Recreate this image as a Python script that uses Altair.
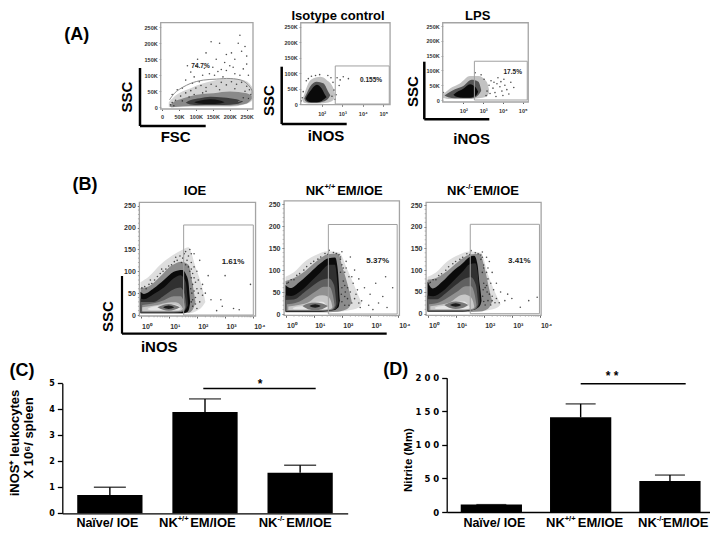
import altair as alt
import pandas as pd

W, H = 702, 521
FONT = "Liberation Sans"
WIDE = "DejaVu Sans"

def px(v):
    return v - 8

# ---------- Row A: values ----------
a1_gate = [(22, 23), (43, 50), (83, 74), (122, 85), (161, 88), (201, 90), (240, 82), (265, 54), (258, 33), (225, 18)]
a1_layers = [
    ("#d4d4d4", [20, 43, 83, 122, 161, 201, 240, 265, 270], [16, 39, 59, 75, 85, 90, 85, 65, 45], [2, 0, 2, 2, 2, 2, 8, 20, 30]),
    ("#8a8a8a", [22, 29, 63, 102, 152, 201, 250, 265], [4, 12, 28, 39, 44, 49, 44, 36], [4, 0, 3, 4, 5, 5, 12, 26]),
    ("#3e3e3e", [70, 83, 112, 142, 181, 220, 240], [14, 22, 28, 33, 31, 25, 18], [14, 9, 7, 7, 7, 10, 18]),
    ("#141414", [95, 107, 142, 171, 185], [16, 20, 25, 21, 16], [16, 12, 10, 12, 16]),
]
a1_dots = [(100, 130), (125, 122), (150, 125), (175, 118), (120, 100), (85, 110), (60, 60), (70, 85), (95, 95), (140, 105),
           (160, 150), (185, 140), (200, 130), (215, 150), (235, 175), (225, 200), (230, 225), (205, 170), (190, 165), (130, 170),
           (145, 205), (170, 200), (240, 120), (250, 135), (255, 100), (215, 105), (180, 95), (110, 80), (45, 55), (30, 40),
           (75, 130), (105, 150), (250, 160), (245, 190), (190, 115), (155, 100), (230, 100), (210, 125), (165, 112), (90, 75),
           (40, 22), (55, 35), (70, 45), (85, 52), (100, 60), (115, 68), (130, 62), (145, 72), (160, 66), (175, 78),
           (190, 70), (205, 80), (220, 72), (235, 78), (250, 66), (258, 55), (245, 50), (60, 20), (80, 32), (25, 8),
           (30, 15), (130, 50), (170, 55), (215, 58), (95, 40), (35, 5), (262, 40), (240, 30), (255, 28), (120, 45)]

a2_layers = [
    ("#c2c2c2", [1.05, 1.14, 1.35, 1.6, 1.92, 2.24, 2.57, 2.65], [14, 30, 67, 83, 88, 78, 51, 30], [14, 4, 2, 2, 2, 4, 13, 30]),
    ("#555555", [1.15, 1.24, 1.43, 1.76, 2.08, 2.32, 2.42], [18, 30, 56, 72, 67, 40, 28], [18, 8, 4, 4, 8, 18, 28]),
    ("#0a0a0a", [1.22, 1.3, 1.51, 1.76, 2.0, 2.16, 2.24], [18, 28, 48, 62, 50, 30, 22], [18, 10, 6, 6, 10, 18, 22]),
]
a2_dots = [(2.75, 85), (2.9, 78), (2.55, 70), (2.45, 85), (1.1, 40), (1.05, 20), (2.6, 45), (2.7, 30), (2.5, 25), (2.3, 92),
           (1.9, 95), (1.5, 90), (1.25, 75), (2.85, 60), (2.65, 15), (1.0, 10), (3.05, 88), (3.3, 82), (1.35, 82), (1.7, 92)]

a3_layers = [
    ("#c2c2c2", [0.96, 1.33, 1.83, 2.34, 2.76, 3.18, 3.3], [18, 39, 56, 81, 81, 62, 35], [8, 3, 3, 3, 6, 11, 25]),
    ("#555555", [1.05, 1.24, 1.58, 2.0, 2.42, 2.76, 2.9], [15, 24, 36, 47, 68, 62, 35], [15, 9, 6, 6, 6, 17, 30]),
    ("#0a0a0a", [1.5, 1.66, 2.0, 2.34, 2.64, 2.75], [18, 26, 38, 53, 41, 28], [18, 11, 8, 8, 15, 28]),
]
a3_dots = [(3.3, 50), (3.5, 40), (3.7, 55), (3.9, 62), (4.1, 50), (4.2, 35), (3.6, 25), (3.95, 30), (4.4, 60), (3.2, 30),
           (3.4, 65), (3.05, 70), (2.9, 85), (4.0, 15), (4.3, 20), (3.75, 75), (3.15, 15), (4.55, 42), (2.6, 92), (1.0, 25),
           (3.85, 45), (3.55, 60), (4.05, 70), (3.35, 22), (3.65, 12)]

# ---------- Row B: values ----------
b1_layers = [
    ("#dedede", [0, 0.3, 0.7, 1.1, 1.5, 1.7, 1.95, 2.2, 2.3], [75, 88, 115, 135, 150, 155, 110, 60, 30], [4, 4, 4, 4, 4, 4, 8, 20, 30]),
    ("#8c8c8c", [0, 0.3, 0.7, 1.1, 1.45, 1.7, 1.85, 1.95], [62, 66, 88, 113, 122, 115, 70, 30], [4, 4, 4, 4, 4, 5, 12, 30]),
    ("#0b0b0b", [0, 0.12, 0.47, 0.83, 1.18, 1.48, 1.62, 1.7, 1.74, 1.76], [53, 48, 61, 80, 99, 103, 92, 75, 45, 30], [4, 4, 4, 4, 4, 4, 6, 10, 20, 30]),
    ("#303030", [0, 0.12, 0.47, 0.83, 1.18, 1.42, 1.6, 1.68], [38, 36, 48, 63, 84, 91, 76, 28], [5, 5, 5, 5, 5, 6, 12, 22]),
    ("#606060", [0, 0.47, 0.83, 1.18, 1.42, 1.56, 1.62], [30, 30, 44, 59, 63, 48, 22], [6, 6, 6, 6, 7, 10, 20]),
    ("#909090", [0.06, 0.47, 0.83, 1.18, 1.42, 1.54, 1.58], [23, 27, 34, 43, 43, 30, 18], [7, 7, 7, 7, 8, 11, 16]),
    ("#c8c8c8", [0.06, 0.6, 0.95, 1.24, 1.42, 1.5], [18, 23, 28, 29, 23, 15], [9, 9, 9, 9, 10, 13]),
    ("#e6e6e6", [0.25, 0.35, 0.83, 1.07, 1.36, 1.42], [14, 17, 23, 25, 21, 15], [13, 11, 11, 11, 11, 13]),
    ("#777777", [0.6, 0.8, 1.0, 1.2, 1.4], [18, 23, 25, 23, 18], [18, 12, 10, 12, 18]),
    ("#1c1c1c", [0.8, 1.0, 1.2], [18, 22, 18], [18, 14, 18]),
]
b1_dots = [(2.4, 90), (2.1, 125), (1.9, 140), (1.75, 150), (2.0, 100), (2.2, 70), (2.3, 50), (2.0, 60), (1.95, 40), (2.1, 30),
           (2.5, 35), (2.9, 20), (3.3, 15), (3.9, 70), (3.0, 90), (2.85, 35), (3.5, 12), (2.7, 10), (1.9, 85), (1.8, 120),
           (1.7, 135), (1.6, 145), (1.5, 130), (1.3, 125), (1.1, 115), (0.9, 105), (0.7, 95), (0.5, 80), (0.3, 70), (0.15, 65),
           (1.85, 20), (2.0, 15), (1.9, 110), (2.05, 80), (2.2, 45), (1.85, 70),
           (0.05, 62), (0.2, 60), (0.4, 72), (0.6, 88), (0.8, 100), (1.0, 112), (1.2, 122), (1.4, 135), (1.55, 140), (1.65, 125),
           (1.8, 105), (1.85, 95), (1.95, 75), (1.9, 55), (2.05, 50), (1.85, 35), (1.95, 25), (2.15, 60), (1.8, 140), (1.6, 115),
           (1.75, 100), (1.8, 85), (1.78, 60), (1.82, 50), (1.8, 30), (0.35, 80), (0.75, 105), (1.25, 132), (1.45, 120), (1.7, 110)]

b2_layers = [
    ("#dedede", [0, 0.3, 0.7, 1.1, 1.5, 1.9, 2.2, 2.6, 2.7], [85, 95, 120, 135, 143, 140, 100, 40, 25], [4, 4, 4, 4, 4, 5, 8, 15, 25]),
    ("#8c8c8c", [0, 0.3, 0.7, 1.1, 1.5, 1.85, 2.05, 2.25, 2.35], [75, 82, 98, 120, 136, 138, 100, 55, 28], [4, 4, 4, 4, 4, 5, 8, 15, 28]),
    ("#0b0b0b", [0, 0.17, 0.52, 0.87, 1.23, 1.52, 1.76, 1.84, 1.89, 1.91, 1.93], [66, 59, 74, 94, 115, 127, 129, 108, 70, 45, 30], [5, 5, 5, 5, 5, 7, 9, 13, 17, 24, 30]),
    ("#303030", [0, 0.2, 0.55, 0.9, 1.25, 1.55, 1.75, 1.84, 1.88], [43, 41, 53, 74, 96, 112, 112, 70, 30], [6, 6, 6, 6, 6, 8, 10, 18, 26]),
    ("#606060", [0, 0.3, 0.7, 1.0, 1.3, 1.55, 1.72, 1.8], [32, 33, 51, 66, 78, 81, 66, 25], [7, 7, 7, 7, 7, 8, 11, 22]),
    ("#909090", [0.05, 0.4, 0.8, 1.1, 1.35, 1.55, 1.68, 1.74], [22, 26, 40, 53, 62, 62, 43, 20], [8, 8, 8, 8, 8, 9, 12, 18]),
    ("#c8c8c8", [0.1, 0.5, 0.85, 1.1, 1.3, 1.5, 1.62, 1.66], [17, 21, 28, 40, 43, 40, 28, 17], [9, 9, 9, 9, 9, 10, 12, 15]),
    ("#e6e6e6", [0.25, 0.3, 0.6, 0.9, 1.1, 1.3, 1.45, 1.5], [13, 15, 18, 24, 28, 28, 20, 14], [13, 11, 11, 11, 11, 11, 11, 13]),
    ("#777777", [0.6, 0.8, 1.05, 1.3, 1.5], [18, 24, 26, 24, 18], [18, 11, 9, 11, 18]),
    ("#1c1c1c", [0.85, 1.05, 1.25], [18, 22, 18], [18, 14, 18]),
]
b2_dots = [(2.3, 130), (2.0, 142), (2.45, 100), (2.6, 80), (2.8, 60), (2.5, 45), (2.2, 60), (2.1, 40), (2.35, 25), (2.7, 30),
           (3.0, 45), (3.3, 25), (3.6, 15), (3.8, 60), (3.2, 70), (3.45, 40), (2.95, 20), (2.65, 15), (2.05, 105), (2.25, 85),
           (1.95, 125), (1.7, 140), (1.4, 138), (1.15, 125), (0.9, 115), (0.65, 100), (0.4, 88), (0.2, 78), (0.05, 70), (2.1, 20),
           (2.4, 70), (2.15, 120), (3.55, 85), (3.1, 10), (1.55, 145), (2.55, 55),
           (0.1, 72), (0.3, 78), (0.5, 92), (0.75, 108), (1.0, 120), (1.25, 130), (1.5, 136), (1.8, 138), (1.95, 130), (2.0, 112),
           (2.1, 95), (2.05, 75), (2.0, 60), (2.1, 65), (1.98, 45), (2.2, 35), (2.0, 28), (2.3, 50), (2.35, 85), (1.95, 95),
           (2.12, 50), (2.45, 35), (2.25, 20), (2.6, 25), (2.15, 105), (1.9, 135)]

b3_layers = [
    ("#dedede", [0, 0.3, 0.7, 1.1, 1.5, 1.9, 2.15, 2.5, 2.6], [85, 95, 120, 135, 143, 140, 90, 35, 22], [4, 4, 4, 4, 4, 5, 8, 15, 22]),
    ("#8c8c8c", [0, 0.3, 0.7, 1.1, 1.5, 1.85, 2.05, 2.2, 2.3], [78, 82, 98, 120, 136, 138, 100, 55, 28], [4, 4, 4, 4, 4, 5, 8, 15, 28]),
    ("#0b0b0b", [0, 0.18, 0.53, 0.89, 1.25, 1.48, 1.66, 1.78, 1.85, 1.9, 1.92], [74, 58, 74, 97, 116, 130, 133, 112, 70, 45, 30], [5, 5, 5, 5, 5, 7, 9, 13, 17, 24, 30]),
    ("#303030", [0, 0.2, 0.55, 0.9, 1.25, 1.5, 1.7, 1.82, 1.86], [42, 40, 52, 74, 97, 114, 116, 70, 30], [6, 6, 6, 6, 6, 8, 10, 18, 26]),
    ("#606060", [0, 0.3, 0.7, 1.0, 1.3, 1.55, 1.72, 1.8], [33, 33, 50, 66, 80, 84, 66, 25], [7, 7, 7, 7, 7, 8, 11, 22]),
    ("#909090", [0.05, 0.4, 0.8, 1.1, 1.35, 1.55, 1.68, 1.74], [22, 26, 40, 53, 63, 63, 43, 20], [8, 8, 8, 8, 8, 9, 12, 18]),
    ("#c8c8c8", [0.1, 0.5, 0.85, 1.1, 1.3, 1.5, 1.62, 1.66], [17, 21, 28, 40, 44, 40, 28, 17], [9, 9, 9, 9, 9, 10, 12, 15]),
    ("#e6e6e6", [0.25, 0.3, 0.6, 0.9, 1.1, 1.3, 1.45, 1.5], [13, 15, 18, 24, 28, 28, 20, 14], [13, 11, 11, 11, 11, 11, 11, 13]),
    ("#777777", [0.6, 0.8, 1.0, 1.25, 1.45], [20, 26, 28, 26, 20], [20, 13, 11, 13, 20]),
    ("#1c1c1c", [0.8, 1.0, 1.2], [20, 24, 20], [20, 16, 20]),
]
b3_dots = [(2.2, 120), (1.95, 142), (2.3, 95), (2.45, 70), (2.6, 50), (2.3, 40), (2.05, 60), (2.15, 30), (2.4, 25), (2.75, 30),
           (3.0, 35), (3.6, 30), (3.3, 15), (2.85, 45), (2.0, 105), (2.15, 80), (1.9, 125), (1.7, 140), (1.4, 138), (1.15, 125),
           (0.9, 115), (0.65, 100), (0.4, 88), (0.2, 78), (0.05, 70), (2.05, 20), (2.35, 55), (2.1, 130), (3.9, 38), (1.55, 145),
           (0.1, 72), (0.3, 78), (0.5, 92), (0.75, 108), (1.0, 120), (1.25, 130), (1.5, 136), (1.8, 138), (1.95, 130), (2.0, 112),
           (2.1, 95), (2.0, 70), (1.98, 55), (2.1, 65), (1.96, 40), (2.2, 45), (2.0, 28), (2.25, 70), (2.3, 30), (1.95, 95),
           (2.12, 50), (2.45, 35), (2.25, 20), (2.55, 25), (2.15, 105), (1.9, 135)]

# log-decade minor tick positions shared by the row B panels
minor_x = [0.3, 0.48, 0.6, 0.7, 0.78, 0.85, 0.9, 0.95, 1.3, 1.48, 1.6, 1.7, 1.78, 1.85, 1.9, 1.95,
           2.3, 2.48, 2.6, 2.7, 2.78, 2.85, 2.9, 2.95, 3.3, 3.48, 3.6, 3.7, 3.78, 3.85, 3.9, 3.95]
minor_y = [10, 20, 30, 40, 60, 70, 80, 90, 110, 120, 130, 140, 160, 170, 180, 190, 210, 220, 230, 240]

# ---------- Rows C, D: values ----------
groups = ["Naïve/ IOE", "NK+/+EM/IOE", "NK-/-EM/IOE"]
c_means = [0.7, 3.9, 1.56]
c_errs = [1.0, 4.4, 1.85]
d_means = [11, 141, 46]
d_errs = [11, 161, 55]
c_sig = 4.8
d_sig = 191

expr_sup = "'10' + ['⁰','¹','²','³','⁴','⁵'][datum.value]"


def flow_panel(px_x, val_x, px_y, val_y, box, gate, layers, dots, xvals, xexpr, yvals, yexpr,
               tick_size, label_dx, x_pad, line_gate=None, x_axis_px=None, y_axis_px=None, minor=False):
    xs = alt.Scale(domain=val_x, range=[px(px_x[0]), px(px_x[1])], nice=False, zero=False)
    ys = alt.Scale(domain=val_y, range=[px(px_y[0]), px(px_y[1])], nice=False, zero=False)
    xenc = alt.X("x:Q", scale=xs)
    yenc = alt.Y("y:Q", scale=ys)
    parts = []
    for colour, xv, top, bot in layers:
        df = pd.DataFrame({"x": xv, "y": top, "y2": bot})
        parts.append(alt.Chart(df).mark_area(color=colour, interpolate="monotone")
                     .encode(x=xenc, y=yenc, y2="y2:Q"))
    ddf = pd.DataFrame(dots, columns=["x", "y"])
    parts.append(alt.Chart(ddf).mark_point(filled=True, color="#222222", size=2.5, opacity=0.8).encode(x=xenc, y=yenc))
    if line_gate:
        gdf = pd.DataFrame(line_gate, columns=["x", "y"]).assign(i=range(len(line_gate)))
        parts.append(alt.Chart(gdf).mark_line(color="#8c8c8c", strokeWidth=1, interpolate="cardinal")
                     .encode(x=xenc, y=yenc, order="i:Q"))
    if gate:
        gd = pd.DataFrame([dict(x=gate[0], x2=gate[1], y=gate[2], y2=gate[3])])
        parts.append(alt.Chart(gd).mark_rect(filled=False, stroke="#a0a0a0", strokeWidth=1)
                     .encode(x=xenc, x2="x2:Q", y=yenc, y2="y2:Q"))
    if minor:
        low = box[2]
        mdf = pd.DataFrame({"x": minor_x, "y": [low] * len(minor_x), "y2": [low - 3] * len(minor_x)})
        parts.append(alt.Chart(mdf).mark_rule(color="#777777", strokeWidth=0.6).encode(x=xenc, y=yenc, y2="y2:Q"))
        left = box[0]
        ndf = pd.DataFrame({"x": [left] * len(minor_y), "x2": [left - 0.05] * len(minor_y), "y": minor_y})
        parts.append(alt.Chart(ndf).mark_rule(color="#777777", strokeWidth=0.6).encode(x=xenc, x2="x2:Q", y=yenc))
    bd = pd.DataFrame([dict(x=box[0], x2=box[1], y=box[2], y2=box[3])])
    fsize = 5.5 if label_dx == 0 else 7
    x_axis = alt.Axis(orient="bottom", offset=px(x_axis_px) - H, values=xvals, labelExpr=xexpr, domain=False,
                      grid=False, title=None, tickSize=tick_size, tickColor="#666666", labelFont=FONT,
                      labelFontWeight="bold", labelFontSize=fsize, labelColor="#333333",
                      labelPadding=x_pad, labelOffset=label_dx, labelOverlap=False, labelFlush=False, labelBound=False)
    y_axis = alt.Axis(orient="left", offset=-px(y_axis_px), values=yvals, labelExpr=yexpr, domain=False,
                      grid=False, title=None, tickSize=tick_size, tickColor="#666666", labelFont=FONT,
                      labelFontWeight="bold", labelFontSize=fsize, labelColor="#333333",
                      labelPadding=2, labelOverlap=False, labelFlush=False, labelBound=False)
    parts.append(alt.Chart(bd).mark_rect(filled=False, stroke="#a4a4a4", strokeWidth=1.3)
                 .encode(x=alt.X("x:Q", scale=xs, axis=x_axis), x2="x2:Q",
                         y=alt.Y("y:Q", scale=ys, axis=y_axis), y2="y2:Q"))
    return alt.layer(*parts)


def bar_panel(left, right, y_px, y_vals, means, errs, sig, sig_px, y_ticks, y_expr, cap, label_size):
    xs = alt.Scale(domain=groups, range=[px(left), px(right)], paddingInner=0.314, paddingOuter=0.157)
    ys = alt.Scale(domain=y_vals, range=[px(y_px[0]), px(y_px[1])], nice=False, zero=False)
    df = pd.DataFrame({"g": groups, "m": means, "e": errs})
    x_axis = alt.Axis(orient="bottom", offset=px(y_px[0]) - H, labels=False, ticks=False, title=None, grid=False,
                      domainColor="black", domainWidth=1.3)
    y_axis = alt.Axis(orient="left", offset=-px(left), values=y_ticks, labelExpr=y_expr, title=None, grid=False,
                      domainColor="black", domainWidth=1.3, tickColor="black", tickWidth=1.3, tickSize=5,
                      labelFont=WIDE, labelFontWeight="bold", labelFontSize=label_size, labelColor="black", labelPadding=3,
                      labelOverlap=False, labelBound=False, labelFlush=False)
    xg = alt.X("g:N", scale=xs, sort=None)
    yg = alt.Y("m:Q", scale=ys)
    bars = alt.Chart(df).mark_bar(color="black").encode(x=alt.X("g:N", scale=xs, sort=None, axis=x_axis),
                                                        y=alt.Y("m:Q", scale=ys, axis=y_axis))
    stems = alt.Chart(df).mark_rule(color="black", strokeWidth=1.4).encode(x=xg, y=yg, y2="e:Q")
    caps = alt.Chart(df).mark_tick(color="black", size=cap, thickness=1.4).encode(x=xg, y=alt.Y("e:Q", scale=ys))
    sdf = pd.DataFrame({"m": [sig]})
    sline = alt.Chart(sdf).mark_rule(color="black", strokeWidth=1.5).encode(
        x=alt.value(px(sig_px[0])), x2=alt.value(px(sig_px[1])), y=yg)
    return alt.layer(bars, stems, caps, sline)


def thick_l(x, y_top, y_bot, x_end, width=2.5):
    return [
        alt.Chart(pd.DataFrame({"a": [0]})).mark_rule(color="black", strokeWidth=width).encode(
            x=alt.value(px(x)), y=alt.value(px(y_top)), y2=alt.value(px(y_bot))),
        alt.Chart(pd.DataFrame({"a": [0]})).mark_rule(color="black", strokeWidth=width).encode(
            x=alt.value(px(x)), x2=alt.value(px(x_end)), y=alt.value(px(y_bot))),
    ]


def label(text, x, y, size=12, angle=0, align="center", weight="bold", font=FONT, colour="black"):
    return alt.Chart(pd.DataFrame({"a": [0]})).mark_text(
        font=font, fontSize=size, fontWeight=weight, angle=angle, align=align, baseline="middle", color=colour
    ).encode(x=alt.value(px(x)), y=alt.value(px(y)), text=alt.value(text))


def nk_label(sup, left, right, y, size=13):
    return [
        label("NK", left, y, size=size, align="left"),
        label(sup, left + size * 1.44, y - size * 0.3, size=size * 0.58, align="left"),
        label("EM/IOE", right, y, size=size, align="right"),
    ]


tick_a = [0, 50, 100, 150, 200, 250]
k_expr = "datum.value == 0 ? '0' : datum.value + 'K'"
log_a = [2, 3, 4, 5]
mix_expr = "datum.value < 2 ? '0' : '10' + ['⁰','¹','²','³','⁴','⁵'][datum.value]"

panels = [
    flow_panel([162, 246.7], [0, 250], [107.3, 27.3], [0, 250], [-3.8, 268.6, -5.3, 264.4], None, a1_layers, a1_dots,
               tick_a, k_expr, tick_a, k_expr, 1.5, 0, 4, line_gate=a1_gate, x_axis_px=109, y_axis_px=160.7),
    flow_panel([321.7, 383.3], [2, 5], [104, 26.7], [0, 250], [0.98, 5.33, -2.3, 262.7], [2.66, 5.29, 0, 123], a2_layers, a2_dots,
               [1.3] + log_a, mix_expr, tick_a, k_expr, 1.5, 0, 5, x_axis_px=104.7, y_axis_px=300.7),
    flow_panel([463.3, 522.7], [2, 5], [100, 26], [0, 250], [0.96, 5.28, -6.8, 261], [2.56, 5.23, 0, 131], a3_layers, a3_dots,
               [1.24] + log_a, mix_expr, tick_a, k_expr, 1.5, 0, 5, x_axis_px=102, y_axis_px=442.7),
    flow_panel([140.5, 253.3], [0, 4], [315, 205.7], [0, 250], [-0.04, 4.08, -2.3, 257.8], [1.53, 4, 0, 205.9], b1_layers, b1_dots,
               [0, 1, 2, 3, 4], expr_sup, tick_a, "datum.value", 2, 6, 4, x_axis_px=316, y_axis_px=139.3, minor=True),
    flow_panel([285.5, 398.3], [0, 4], [314, 204.3], [0, 250], [-0.05, 4.04, -3, 258], [1.52, 3.96, 0, 204], b2_layers, b2_dots,
               [0, 1, 2, 3, 4], expr_sup, tick_a, "datum.value", 2, 6, 4, x_axis_px=315.3, y_axis_px=284, minor=True),
    flow_panel([427.5, 540], [0, 4], [313.7, 205], [0, 250], [-0.05, 4.04, -3.7, 256], [1.52, 3.98, 0, 205.6], b3_layers, b3_dots,
               [0, 1, 2, 3, 4], expr_sup, tick_a, "datum.value", 2, 6, 4, x_axis_px=315.3, y_axis_px=426, minor=True),
    bar_panel(62.3, 347.7, [513.3, 383.3], [0, 5], c_means, c_errs, c_sig, [203.3, 315.7], [0, 1, 2, 3, 4, 5], "datum.value", 32, 8),
    bar_panel(446.7, 714.6, [512, 377.7], [0, 200], d_means, d_errs, d_sig, [580.7, 685.7], [0, 50, 100, 150, 200],
              "replace(datum.value + '', /(\\d)(?=\\d)/g, '$1 ')", 30, 8.5),
]

decor = []
decor += thick_l(140, 68, 126, 205.7)
decor += thick_l(281.7, 66.7, 124, 346.7)
decor += thick_l(424.3, 61.7, 119.3, 489.3)
decor += thick_l(122, 276, 333.7, 386.7, width=2.2)

texts = [
    label("(A)", 76.7, 35, size=18), label("(B)", 85, 185, size=18), label("(C)", 22, 370.7, size=18),
    label("(D)", 395.7, 370, size=18),
    label("Isotype control", 338, 15.5, size=13), label("LPS", 477.7, 15.5, size=13),
    label("SSC", 127.3, 97, size=15, angle=270), label("FSC", 175.7, 137, size=15),
    label("SSC", 269, 100.7, size=15, angle=270), label("iNOS", 326, 135.7, size=15),
    label("SSC", 413, 91.7, size=15, angle=270), label("iNOS", 471.7, 139.3, size=15),
    label("SSC", 108.3, 316.7, size=15, angle=270), label("iNOS", 159.3, 347.3, size=15),
    label("74.7%", 200.5, 66, size=6.5, colour="#222222"), label("0.155%", 371, 80, size=6.5, colour="#222222"),
    label("17.5%", 512.7, 71.7, size=6.5, colour="#222222"),
    label("1.61%", 233, 261.7, size=8, colour="#222222"), label("5.37%", 377.7, 260.7, size=8, colour="#222222"),
    label("3.41%", 519.3, 260.7, size=8, colour="#222222"),
    label("IOE", 195, 190.7, size=13),
    label("iNOS⁺ leukocytes", 15, 443, size=13, angle=270), label("X 10⁶/ spleen", 29, 438, size=13, angle=270),
    label("Nitrite (Mm)", 409, 460, size=11.5, angle=270),
    label("*", 260, 384, size=12), label("* *", 612, 376, size=12),
    label("Naïve/ IOE", 107.3, 522.5, size=12.5), label("Naïve/ IOE", 494.3, 522.5, size=12.5),
]
texts += nk_label("+/+", 305.7, 382.7, 190.7)
texts += nk_label("-/-", 447, 519, 190.7)
texts += nk_label("+/+", 159, 235.7, 522.5)
texts += nk_label("-/-", 258.7, 331.7, 522.5)
texts += nk_label("+/+", 546, 623.3, 522.5)
texts += nk_label("-/-", 638, 708.5, 522.5)

chart = alt.layer(*panels, *decor, *texts).resolve_scale(x="independent", y="independent").resolve_axis(
    x="independent", y="independent"
).properties(width=W, height=H, padding=0, autosize="none", background="white").configure_view(stroke=None)

chart.save("out.html", embed_options={"renderer": "svg", "actions": False})
